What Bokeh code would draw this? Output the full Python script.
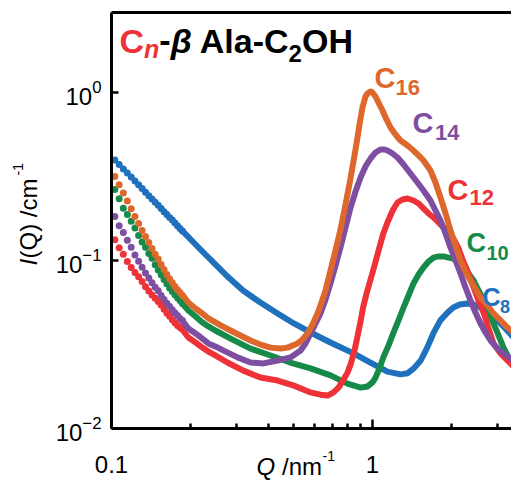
import math
from bokeh.plotting import figure
from bokeh.models import (LogAxis, FixedTicker, CustomJSTickFormatter, Label, Range1d)
from bokeh.embed import file_html
from bokeh.resources import INLINE

# ---------------- data ----------------
# low-Q region, drawn as separate dots
q_low = [0.103, 0.107, 0.111, 0.115, 0.119, 0.123, 0.127, 0.131, 0.135, 0.139, 0.143,
         0.147, 0.151, 0.155, 0.159, 0.163, 0.167, 0.171, 0.175, 0.179, 0.183, 0.187]
c8_low = [0.397, 0.373, 0.351, 0.332, 0.314, 0.297, 0.282, 0.268, 0.255, 0.243, 0.232,
          0.222, 0.213, 0.204, 0.195, 0.188, 0.180, 0.174, 0.167, 0.161, 0.155, 0.150]
c10_low = [0.265, 0.233, 0.205, 0.188, 0.171, 0.156, 0.141, 0.129, 0.120, 0.110, 0.103,
           0.0944, 0.0878, 0.0822, 0.0771, 0.0726, 0.0687, 0.0654, 0.0626, 0.0600, 0.0577, 0.0555]
c12_low = [0.133, 0.119, 0.109, 0.0986, 0.0909, 0.0848, 0.0799, 0.0750, 0.0698, 0.0659, 0.0624,
           0.0597, 0.0571, 0.0543, 0.0512, 0.0486, 0.0465, 0.0444, 0.0426, 0.0410, 0.0399, 0.0390]
c14_low = [0.183, 0.161, 0.147, 0.132, 0.120, 0.108, 0.0990, 0.0911, 0.0843, 0.0787, 0.0737,
           0.0694, 0.0660, 0.0620, 0.0586, 0.0557, 0.0533, 0.0509, 0.0488, 0.0471, 0.0452, 0.0440]
c16_low = [0.316, 0.282, 0.252, 0.226, 0.203, 0.183, 0.166, 0.151, 0.139, 0.128, 0.118,
           0.109, 0.102, 0.0948, 0.0883, 0.0824, 0.0775, 0.0736, 0.0700, 0.0669, 0.0644, 0.0620]

# higher-Q region, dense points drawn as a thick trace
c8_q = [0.190, 0.210, 0.229, 0.250, 0.281, 0.320, 0.372, 0.433, 0.500, 0.579, 0.690, 0.846,
        0.982, 1.14, 1.28, 1.36, 1.44, 1.53, 1.62, 1.71, 1.82, 1.94, 2.04, 2.16,
        2.31, 2.44, 2.59, 2.76, 3.01, 3.23, 3.47, 3.69, 3.93]
c8_i = [0.146, 0.1245, 0.1086, 0.0947, 0.0792, 0.066, 0.0562, 0.0484, 0.0422, 0.0373, 0.0325, 0.028,
        0.0247, 0.0218, 0.021, 0.0213, 0.0228, 0.0254, 0.0303, 0.0368, 0.044, 0.049, 0.0525, 0.0547,
        0.0555, 0.0547, 0.0525, 0.049, 0.044, 0.0394, 0.0348, 0.032, 0.0283]

c10_q = [0.190, 0.197, 0.210, 0.223, 0.235, 0.250, 0.286, 0.341, 0.407, 0.484, 0.579, 0.690,
         0.802, 0.900, 0.957, 1.00, 1.027, 1.064, 1.10, 1.152, 1.20, 1.258, 1.315, 1.374,
         1.436, 1.501, 1.568, 1.639, 1.713, 1.79, 1.872, 1.955, 2.04, 2.136, 2.22, 2.332,
         2.44, 2.548, 2.67, 2.783, 2.908, 3.039, 3.176, 3.32, 3.469, 3.69, 3.926]
c10_i = [0.0538, 0.0504, 0.0464, 0.0428, 0.0405, 0.0383, 0.0343, 0.0299, 0.0272, 0.0247, 0.0228, 0.0207,
         0.0185, 0.0175, 0.0178, 0.0188, 0.0201, 0.0228, 0.0265, 0.0312, 0.0368, 0.044, 0.0525, 0.0619,
         0.073, 0.0825, 0.0909, 0.0986, 0.104, 0.1058, 0.1058, 0.104, 0.1028, 0.0973, 0.0909, 0.0837,
         0.076, 0.0663, 0.0578, 0.0497, 0.0422, 0.0358, 0.0303, 0.0265, 0.0234, 0.0215, 0.0201]

c12_q = [0.190, 0.197, 0.210, 0.223, 0.235, 0.250, 0.278, 0.320, 0.372, 0.433, 0.500, 0.579,
         0.632, 0.673, 0.709, 0.741, 0.770, 0.802, 0.824, 0.853, 0.876, 0.900, 0.922, 0.949,
         0.983, 1.018, 1.055, 1.10, 1.141, 1.172, 1.20, 1.247, 1.303, 1.362, 1.436, 1.501,
         1.568, 1.639, 1.713, 1.79, 1.872, 1.955, 2.04, 2.136, 2.22, 2.332, 2.44, 2.548,
         2.67, 2.783, 2.908, 3.093, 3.29, 3.469, 3.69, 3.926]
c12_i = [0.0374, 0.0348, 0.0325, 0.0303, 0.0287, 0.0272, 0.0247, 0.0221, 0.0201, 0.0193, 0.0180, 0.0164,
         0.0159, 0.0157, 0.0164, 0.0175, 0.0193, 0.0215, 0.0240, 0.0291, 0.0353, 0.0434, 0.0532, 0.0636,
         0.0771, 0.0934, 0.1147, 0.1448, 0.1684, 0.1853, 0.2012, 0.2215, 0.2308, 0.2339, 0.2276, 0.2185,
         0.2040, 0.1905, 0.1803, 0.1684, 0.1572, 0.1468, 0.1352, 0.1179, 0.100, 0.0837, 0.0691, 0.0578,
         0.0484, 0.0394, 0.0321, 0.0280, 0.0254, 0.0234, 0.0213, 0.0193]

c14_q = [0.190, 0.197, 0.210, 0.223, 0.235, 0.250, 0.269, 0.304, 0.341, 0.382, 0.433, 0.485,
         0.530, 0.554, 0.579, 0.605, 0.632, 0.661, 0.690, 0.722, 0.754, 0.788, 0.824, 0.861,
         0.900, 0.940, 0.983, 1.027, 1.073, 1.112, 1.141, 1.193, 1.247, 1.315, 1.398, 1.487,
         1.568, 1.668, 1.743, 1.822, 1.905, 1.99, 2.08, 2.174, 2.272, 2.374, 2.481, 2.593,
         2.71, 2.832, 3.012, 3.176, 3.379, 3.594, 3.926]
c14_i = [0.0424, 0.0394, 0.0368, 0.0343, 0.0321, 0.0308, 0.0291, 0.0265, 0.0247, 0.0244, 0.0254, 0.0265,
         0.0291, 0.0321, 0.0368, 0.0422, 0.0484, 0.0586, 0.0730, 0.0934, 0.1195, 0.1572, 0.2068, 0.2575,
         0.3119, 0.3628, 0.4047, 0.4396, 0.4580, 0.4580, 0.4516, 0.4336, 0.4103, 0.3727, 0.3296, 0.2912,
         0.2610, 0.2276, 0.1984, 0.1730, 0.1448, 0.1195, 0.100, 0.0837, 0.0691, 0.0578, 0.0490, 0.0422,
         0.0373, 0.0334, 0.0299, 0.0280, 0.0261, 0.0244, 0.0221]

c16_q = [0.1905, 0.197, 0.2098, 0.2232, 0.2353, 0.2503, 0.2663, 0.2858, 0.3121, 0.3409, 0.3723, 0.4067,
         0.4442, 0.4724, 0.516, 0.5393, 0.5636, 0.5891, 0.6157, 0.6378, 0.6606, 0.6904, 0.7215, 0.7541,
         0.7881, 0.8236, 0.8531, 0.876, 0.8995, 0.9156, 0.9401, 0.9568, 0.9825, 1.0, 1.027, 1.0545,
         1.092, 1.131, 1.172, 1.225, 1.28, 1.362, 1.436, 1.501, 1.568, 1.668, 1.743, 1.822,
         1.905, 1.99, 2.08, 2.174, 2.272, 2.374, 2.593, 2.758, 2.908, 3.093, 3.29, 3.469,
         3.69, 3.926]
c16_i = [0.0602, 0.0562, 0.0518, 0.0484, 0.0452, 0.0428, 0.0405, 0.0383, 0.0358, 0.0334, 0.0316, 0.0303,
         0.0299, 0.0303, 0.0321, 0.0339, 0.0368, 0.0416, 0.0484, 0.0562, 0.0663, 0.0872, 0.1147, 0.1530,
         0.2154, 0.3077, 0.4217, 0.5396, 0.7002, 0.8141, 0.9467, 0.9863, 1.014, 1.0, 0.9467, 0.8721,
         0.7815, 0.6910, 0.6190, 0.5623, 0.5179, 0.4836, 0.4516, 0.4217, 0.3937, 0.3433, 0.2912, 0.2371,
         0.1905, 0.1509, 0.1229, 0.100, 0.0860, 0.0760, 0.0602, 0.0540, 0.0484, 0.0440, 0.0399, 0.0373,
         0.0348, 0.0334]

series_names = ["C8", "C10", "C12", "C14", "C16"]
x_major_ticks = [0.1, 1]
x_minor_ticks = [0.2, 0.3, 0.4, 0.5, 0.6, 0.7, 0.8, 0.9, 2, 3]
y_major_ticks = [0.01, 0.1, 1]
x_axis_start, y_axis_start = 0.1, 0.01

# ---------------- styling / layout ----------------
BLUE, GREEN, RED, PURPLE, ORANGE = "#1f70bd", "#168a48", "#ee3238", "#7e4fa1", "#de682b"
FONT = "Liberation Sans"

W, H = 511, 480                          # fits a 527x496 window with 8px margins
BOX_L, BOX_T, BOX_B = 111, 12, 428      # plot box edges in canvas pixels
DEC_X, DEC_Y = 261.0, 168.0              # pixels per decade
MID_TO_BASE = 0.35                       # baseline lies this many font sizes below the text middle


def dx(px):
    return x_axis_start * 10 ** ((px - BOX_L) / DEC_X)


def dy(py):
    return y_axis_start * 10 ** ((BOX_B - py) / DEC_Y)


x_box_end = dx(W)
y_box_top = dy(BOX_T)

# the frame fills the whole canvas; axes sit at fixed positions inside it
p = figure(width=W, height=H, x_axis_type="log", y_axis_type="log",
           x_axis_location=None, y_axis_location=None,
           x_range=Range1d(dx(0), dx(W)), y_range=Range1d(dy(H), dy(0)),
           output_backend="svg", toolbar_location=None, min_border=0)
p.outline_line_color = None
p.background_fill_color = "white"
p.border_fill_color = "white"
p.grid.visible = False

xa = LogAxis(ticker=FixedTicker(ticks=x_major_ticks, minor_ticks=x_minor_ticks),
             formatter=CustomJSTickFormatter(code="return String(Number(tick.toPrecision(3)));"),
             fixed_location=y_axis_start, bounds=(x_axis_start, x_box_end),
             axis_line_width=3, major_tick_in=9, major_tick_out=0,
             minor_tick_in=5, minor_tick_out=0,
             major_tick_line_width=2.5, minor_tick_line_width=2.5,
             major_label_text_font=FONT, major_label_text_font_size="24px",
             major_label_text_color="black", major_label_standoff=27)
p.add_layout(xa, "below")

ya = LogAxis(ticker=FixedTicker(ticks=y_major_ticks, minor_ticks=[]),
             fixed_location=x_axis_start, bounds=(y_axis_start, y_box_top),
             axis_line_width=3, major_tick_in=7, major_tick_out=0,
             minor_tick_line_color=None, major_tick_line_width=2.5,
             major_label_text_font=FONT, major_label_text_font_size="24px",
             major_label_text_color="black", major_label_standoff=10)
p.add_layout(ya, "left")

top_axis = LogAxis(ticker=FixedTicker(ticks=[], minor_ticks=[]),
                   fixed_location=y_box_top, bounds=(x_axis_start, x_box_end),
                   axis_line_width=3, major_tick_line_color=None,
                   minor_tick_line_color=None, major_label_text_font_size="0px",
                   major_tick_out=0, major_tick_in=0)
p.add_layout(top_axis, "above")

# ---------------- curves ----------------
curves = [
    (c8_low, c8_q, c8_i, BLUE),
    (c10_low, c10_q, c10_i, GREEN),
    (c12_low, c12_q, c12_i, RED),
    (c14_low, c14_q, c14_i, PURPLE),
    (c16_low, c16_q, c16_i, ORANGE),
]
for low, qq, ii, col in curves:
    p.line(qq, ii, line_width=6, line_color=col, line_join="round", line_cap="round")
    p.scatter(q_low, low, marker="circle", size=7, fill_color=col, line_color=None)


# ---------------- texts (baseline positions given in canvas pixels) ----------------
def txt(px, py, text, size, color="black", style="normal", angle=0.0):
    shift = MID_TO_BASE * size
    if angle == 0.0:
        ax, ay = px, py - shift
    else:                       # rotated a quarter turn: baseline lies to the right
        ax, ay = px - shift, py
    p.add_layout(Label(x=dx(ax), y=dy(ay), text=text, text_font=FONT,
                       text_font_size=f"{size}px", text_font_style=style,
                       text_color=color, text_align="left",
                       text_baseline="middle", angle=angle))


# title, laid out piece by piece with Arial-metric advances
ADV = {"C": 0.722, "n": 0.611, "-": 0.333, "β": 0.58, " ": 0.278, "A": 0.722,
       "l": 0.278, "a": 0.556, "2": 0.556, "O": 0.778, "H": 0.722}
title_parts = [("C", 34, RED, "bold", 0, 0), ("n", 25, RED, "bold italic", 5, 0),
               ("-", 34, "black", "bold", 0, 0), ("β", 34, "black", "bold italic", 0, 0.278),
               ("Ala-C", 34, "black", "bold", 0, 0), ("2", 24, "black", "bold", 9, 0),
               ("OH", 34, "black", "bold", 0, 0)]
tx = 119.0
for text, size, col, style, drop, gap in title_parts:
    txt(tx, 52 + drop, text, size, col, style)
    tx += (sum(ADV[ch] for ch in text) + gap) * size

# curve labels: (C x, C baseline, sub x, sub baseline, subscript, colour, C size, sub size)
for (cx, cy, sx, sy, sub, col, fs, fss) in [
    (374, 88, 395, 95, "16", ORANGE, 29, 22),
    (412, 133, 434.5, 140, "14", PURPLE, 29, 22),
    (447, 200, 469, 205, "12", RED, 29, 22),
    (466, 252, 486, 259, "10", GREEN, 27, 20),
    (482, 305, 499.5, 312, "8", BLUE, 25, 18),
]:
    txt(cx, cy, "C", fs, col, "bold")
    txt(sx, sy, sub, fss, col, "bold")

# x axis title (kept inside the 480px-high canvas)
txt(256, 474, "Q", 24, "black", "italic")
txt(281.5, 474, "/nm", 24, "black")
txt(322, 460, "-1", 14, "black")

# y axis title (rotated)
R = math.pi / 2
txt(36, 265, "I", 24, "black", "italic", R)
txt(36, 258, "(Q) /cm", 24, "black", "normal", R)
txt(22, 175, "-1", 14, "black", "normal", R)

open("out.html", "w").write(file_html(p, INLINE))
